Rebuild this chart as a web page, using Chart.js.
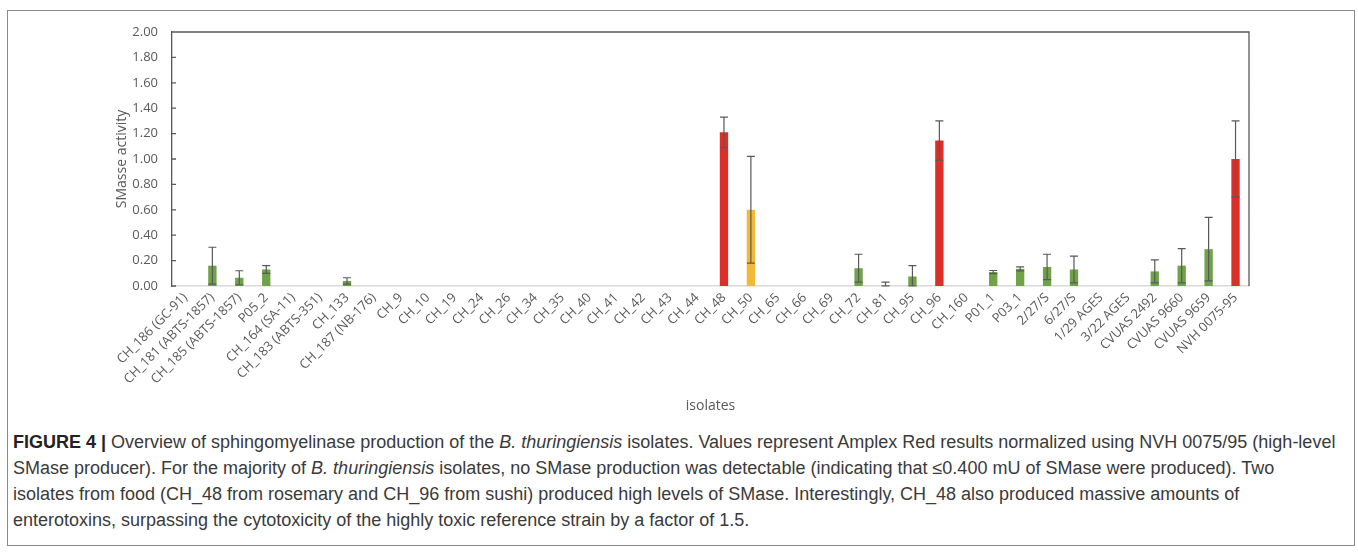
<!DOCTYPE html>
<html>
<head>
<meta charset="utf-8">
<script src="https://cdn.jsdelivr.net/npm/chart.js@4"></script>
<style>
  body { margin: 0; background: #fff; }
  #frame {
    position: absolute; left: 7px; top: 10px; width: 1346px; height: 534px;
    border: 1.5px solid #8a8a8a;
  }
  #wrap { position: absolute; left: 0; top: 0; width: 1358px; height: 420px; }
  #caption {
    position: absolute; left: 13px; top: 429px; width: 1340px;
    font-family: "Liberation Sans", Arial, sans-serif;
    font-size: 18px; line-height: 26px; color: #3a3a3a; white-space: nowrap;
  }
  #caption b { color: #222; }
</style>
</head>
<body>
<div id="frame"></div>
<div id="wrap"><canvas id="myCanvas" width="1358" height="420"></canvas></div>
<div id="caption">
<b>FIGURE 4 |</b> Overview of sphingomyelinase production of the <i>B. thuringiensis</i> isolates. Values represent Amplex Red results normalized using NVH 0075/95 (high-level<br>
SMase producer). For the majority of <i>B. thuringiensis</i> isolates, no SMase production was detectable (indicating that ≤0.400 mU of SMase were produced). Two<br>
isolates from food (CH_48 from rosemary and CH_96 from sushi) produced high levels of SMase. Interestingly, CH_48 also produced massive amounts of<br>
enterotoxins, surpassing the cytotoxicity of the highly toxic reference strain by a factor of 1.5.
</div>
<script>
const isolates = [
  'CH_186 (GC-91)', 'CH_181 (ABTS-1857)', 'CH_185 (ABTS-1857)', 'P05_2',
  'CH_164 (SA-11)', 'CH_183 (ABTS-351)', 'CH_133', 'CH_187 (NB-176)',
  'CH_9', 'CH_10', 'CH_19', 'CH_24', 'CH_26', 'CH_34', 'CH_35', 'CH_40',
  'CH_41', 'CH_42', 'CH_43', 'CH_44', 'CH_48', 'CH_50', 'CH_65', 'CH_66',
  'CH_69', 'CH_72', 'CH_81', 'CH_95', 'CH_96', 'CH_160', 'P01_1', 'P03_1',
  '2/27/S', '6/27/S', '1/29 AGES', '3/22 AGES', 'CVUAS 2492', 'CVUAS 9660',
  'CVUAS 9659', 'NVH 0075-95'
];

const activity = [
  0, 0.16, 0.065, 0.13, 0, 0, 0.04, 0,
  0, 0, 0, 0, 0, 0, 0, 0,
  0, 0, 0, 0, 1.21, 0.60, 0, 0,
  0, 0.14, 0.005, 0.075, 1.145, 0, 0.11, 0.135,
  0.15, 0.13, 0, 0, 0.115, 0.16, 0.29, 1.00
];

const stdev = [
  0, 0.145, 0.055, 0.03, 0, 0, 0.025, 0,
  0, 0, 0, 0, 0, 0, 0, 0,
  0, 0, 0, 0, 0.12, 0.42, 0, 0,
  0, 0.11, 0.025, 0.085, 0.155, 0, 0.012, 0.016,
  0.10, 0.105, 0, 0, 0.09, 0.135, 0.25, 0.30
];

const yTicks = [0, 0.2, 0.4, 0.6, 0.8, 1.0, 1.2, 1.4, 1.6, 1.8, 2.0];

const highProducers = ['CH_48', 'CH_96', 'NVH 0075-95'];
const midProducers = ['CH_50'];

const barColors = isolates.map(function (name) {
  if (highProducers.includes(name)) return '#dc2f2a';
  if (midProducers.includes(name)) return '#f2b936';
  return '#70a24a';
});

const axisGrey = '#595959';

// error bars + box border, drawn through the chart's own scales
const errorBars = {
  id: 'errorBars',
  afterDatasetsDraw(chart) {
    const ctx = chart.ctx;
    const y = chart.scales.y;
    const meta = chart.getDatasetMeta(0);
    ctx.save();
    ctx.strokeStyle = axisGrey;
    ctx.lineWidth = 1.2;
    meta.data.forEach(function (bar, i) {
      const e = stdev[i];
      if (!e) return;
      const top = y.getPixelForValue(activity[i] + e);
      const bot = y.getPixelForValue(Math.max(activity[i] - e, 0));
      ctx.beginPath();
      ctx.moveTo(bar.x, top); ctx.lineTo(bar.x, bot);
      ctx.moveTo(bar.x - 4, top); ctx.lineTo(bar.x + 4, top);
      ctx.moveTo(bar.x - 4, bot); ctx.lineTo(bar.x + 4, bot);
      ctx.stroke();
    });
    ctx.restore();
  },
  afterDraw(chart) {
    const ctx = chart.ctx;
    const a = chart.chartArea;
    const y = chart.scales.y;
    ctx.save();
    ctx.strokeStyle = axisGrey;
    ctx.lineWidth = 1.3;
    ctx.beginPath();
    ctx.moveTo(a.left, a.top); ctx.lineTo(a.right, a.top);
    ctx.lineTo(a.right, a.bottom);
    yTicks.forEach(function (v) {
      const py = y.getPixelForValue(v);
      ctx.moveTo(a.left, py); ctx.lineTo(a.left + 4, py);
    });
    ctx.stroke();
    ctx.restore();
  }
};

const data = {
  labels: isolates,
  datasets: [{
    label: 'SMasse activity',
    data: activity,
    backgroundColor: barColors,
    borderWidth: 0,
    categoryPercentage: 1,
    barPercentage: 0.31
  }]
};

const config = {
  type: 'bar',
  data: data,
  options: {
    responsive: false,
    animation: false,
    layout: { padding: { left: 110, right: 109, top: 32, bottom: 2 } },
    plugins: { legend: { display: false }, tooltip: { enabled: false } },
    scales: {
      x: {
        grid: { display: false, drawTicks: false },
        border: { color: '#d9d9d9', width: 1.5 },
        ticks: {
          color: axisGrey, minRotation: 45, maxRotation: 45, autoSkip: false,
          padding: 4,
          font: { family: 'Open Sans', size: 13 }
        },
        title: {
          display: true, text: 'isolates', color: axisGrey,
          font: { family: 'Open Sans', size: 14 }
        },
        afterFit(scale) { scale.height = 132; }
      },
      y: {
        min: 0, max: 2,
        grid: { display: false, drawTicks: false },
        border: { color: axisGrey, width: 1.3 },
        afterBuildTicks(scale) { scale.ticks = yTicks.map(function (v) { return { value: v }; }); },
        ticks: {
          color: axisGrey, padding: 14,
          font: { family: 'Open Sans', size: 13 },
          callback: function (v) { return Number(v).toFixed(2); }
        },
        title: {
          display: true, text: 'SMasse activity', color: axisGrey,
          font: { family: 'Open Sans', size: 14 }
        },
        afterFit(scale) { scale.width = 62; }
      }
    }
  },
  plugins: [errorBars]
};

const myChart = new Chart(document.getElementById('myCanvas'), config);
</script>
</body>
</html>
